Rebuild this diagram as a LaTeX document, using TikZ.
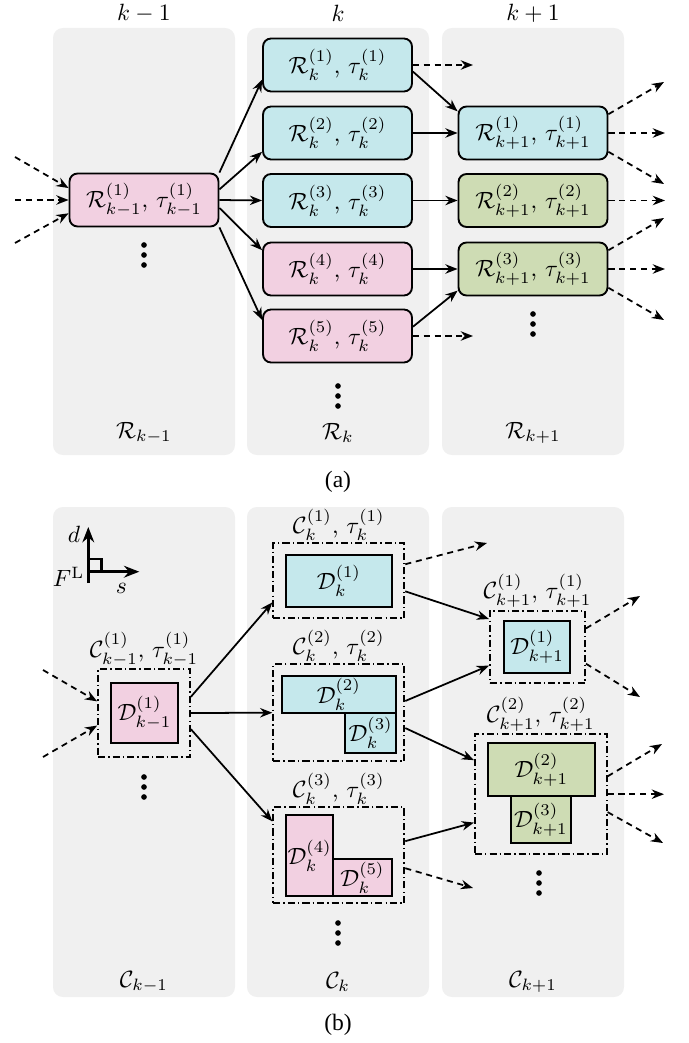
\documentclass[tikz,border=0pt]{standalone}
\usepackage{amsmath, amssymb}
\usepackage{fontspec}
\newfontfamily\capfont{Liberation Serif}
\usepackage{tikz}
\usetikzlibrary{arrows.meta, positioning}

\definecolor{colbg}{RGB}{240,240,240}
\definecolor{cyanbox}{RGB}{197,232,236}
\definecolor{pinkbox}{RGB}{242,208,225}
\definecolor{greenbox}{RGB}{206,220,180}

\begin{document}
\begin{tikzpicture}[
                    x=0.425pt, y=-0.425pt,
                    col/.style={fill=colbg, rounded corners=4.2pt},
                    rbox/.style={draw, line width=0.8pt, rounded corners=3.4pt, minimum width=63.3pt, minimum height=22.5pt, inner sep=0pt},
                    dbox/.style={draw, line width=0.8pt, inner sep=0pt},
                    chunk/.style={draw, line width=0.8pt, dash pattern=on 3pt off 1.3pt on 0.6pt off 1.3pt, inner sep=0pt},
                    clab/.style={anchor=south, inner sep=0.6pt},
                    hdr/.style={inner sep=1pt},
                    arr/.style={-{Stealth[length=5.2pt, width=4pt]}, line width=0.75pt},
                    darr/.style={arr, dash pattern=on 2.6pt off 2pt},
                    axarr/.style={-{Stealth[length=6.5pt, width=5pt]}, line width=1.2pt}
                ]
                \useasboundingbox (0,0) rectangle (689,1043);
                % gray columns
                \foreach \x in {53, 247, 442}{
                        \fill[col] (\x,28) rectangle ++(182,427);
                        \fill[col] (\x,507) rectangle ++(182,490);
                    }
                \node[hdr] (hd1) at (144,13) {$k-1$};
                \node[hdr] (hd2) at (338,13) {$k$};
                \node[hdr] (hd3) at (533,13) {$k+1$};

                % (a) reachable sets
                \node[rbox, fill=pinkbox] (rp) at (144,200) {$\mathcal{R}_{k-1}^{(1)}$, $\tau_{k-1}^{(1)}$};
                \foreach \i/\y/\c in {1/65/cyanbox, 2/133/cyanbox, 3/200.5/cyanbox, 4/269/pinkbox, 5/336/pinkbox}{
                        \node[rbox, fill=\c] (r\i) at (337.5,\y) {$\mathcal{R}_{k}^{(\i)}$, $\tau_{k}^{(\i)}$};
                    }
                \foreach \i/\y/\c in {1/133/cyanbox, 2/200.5/greenbox, 3/269/greenbox}{
                        \node[rbox, fill=\c] (s\i) at (533,\y) {$\mathcal{R}_{k+1}^{(\i)}$, $\tau_{k+1}^{(\i)}$};
                    }
                \foreach \x/\y in {144/245, 338/386, 533/314}{
                        \foreach \d in {0,10,20}
                            \fill (\x,\y+\d) circle[radius=1.2pt];
                    }
                \node (lr1) at (144,433) {$\mathcal{R}_{k-1}$};
                \node (lr2) at (338,433) {$\mathcal{R}_{k}$};
                \node (lr3) at (533,433) {$\mathcal{R}_{k+1}$};
                \node[font=\capfont] (capa) at (338,482) {(a)};

                \draw[arr] (rp.north east) -- (r1.191);
                \draw[arr] (rp.8) -- (r2.194);
                \draw[arr] (rp.east) -- (r3.west);
                \draw[arr] (rp.-6) -- (r4.166);
                \draw[arr] (rp.south east) -- (r5.168);
                \draw[arr] (r1.-5) -- (s1.164);
                \draw[arr] (r2.east) -- (s1.west);
                \draw[arr] (r3.east) -- (s2.west);
                \draw[arr] (r4.east) -- (s3.west);
                \draw[arr] (r5.7) -- (s3.196);

                \coordinate (ia1) at (15,157);
                \coordinate (ia2) at (15,200);
                \coordinate (ia3) at (15,243);
                \draw[darr] (ia1) -- (rp.171);
                \draw[darr] (ia2) -- (rp.west);
                \draw[darr] (ia3) -- (rp.190);
                \coordinate (oa1) at (473,65);
                \coordinate (oa2) at (473,336);
                \draw[darr] (r1.east) -- (oa1);
                \draw[darr] (r5.east) -- (oa2);
                \foreach \s/\y in {1/133, 3/269}{
                        \draw[darr] (s\s.14) -- (664,\y-51);
                        \draw[darr] (s\s.east) -- (665,\y);
                        \draw[darr] (s\s.-14) -- (664,\y+51);
                    }
                \draw[darr] (s2.east) -- (665,200.5);

                % (b) chunks
                \coordinate (fo) at (88.3,571.7);
                \draw[axarr] (fo) ++(0,11.3) -- ++(0,-56);
                \draw[axarr] (fo) -- ++(51,0);
                \draw[line width=1.2pt] (fo) rectangle ++(13.4,-12.7);
                \node (dl) at (74,534) {$d$};
                \node[anchor=east, inner sep=1pt] (fl) at (87,577) {$F^{\mathrm{L}}$};
                \node (sl) at (121.5,588) {$s$};

                \node[chunk, minimum width=39pt, minimum height=37.4pt] (cp) at (144,713) {};
                \node[dbox, fill=pinkbox, minimum width=28.7pt, minimum height=25.5pt] (dp) at (144.5,713) {$\mathcal{D}_{k-1}^{(1)}$};
                \node[clab] (lcp) at (cp.north) {$\mathcal{C}_{k-1}^{(1)}$, $\tau_{k-1}^{(1)}$};

                \node[chunk, minimum width=55.7pt, minimum height=31.9pt] (ck1) at (338.8,580.8) {};
                \node[dbox, fill=cyanbox, minimum width=45.3pt, minimum height=22pt] (dk1) at (339,581) {$\mathcal{D}_{k}^{(1)}$};
                \node[clab] (lck1) at (ck1.north) {$\mathcal{C}_{k}^{(1)}$, $\tau_{k}^{(1)}$};

                \node[chunk, minimum width=55.7pt, minimum height=41.1pt] (ck2) at (338.8,712.7) {};
                \node[dbox, fill=cyanbox, minimum width=48.6pt, minimum height=15.6pt] (dk2) at (338.8,694.3) {$\mathcal{D}_{k}^{(2)}$};
                \node[dbox, fill=cyanbox, minimum width=21.5pt, minimum height=17pt] (dk3) at (370.7,732.7) {$\mathcal{D}_{k}^{(3)}$};
                \node[clab] (lck2) at (ck2.north) {$\mathcal{C}_{k}^{(2)}$, $\tau_{k}^{(2)}$};

                \node[chunk, minimum width=55.7pt, minimum height=40.8pt] (ck3) at (338.8,855.3) {};
                \node[dbox, fill=pinkbox, minimum width=20.1pt, minimum height=34.4pt] (dk4) at (309.7,855.5) {$\mathcal{D}_{k}^{(4)}$};
                \node[dbox, fill=pinkbox, minimum width=24.8pt, minimum height=15.6pt] (dk5) at (362.5,877.7) {$\mathcal{D}_{k}^{(5)}$};
                \node[clab] (lck3) at (ck3.north) {$\mathcal{C}_{k}^{(3)}$, $\tau_{k}^{(3)}$};

                \node[chunk, minimum width=40.4pt, minimum height=30.9pt] (cn1) at (537.5,647) {};
                \node[dbox, fill=cyanbox, minimum width=27.9pt, minimum height=22.4pt] (dn1) at (537.2,647) {$\mathcal{D}_{k+1}^{(1)}$};
                \node[clab] (lcn1) at (cn1.north) {$\mathcal{C}_{k+1}^{(1)}$, $\tau_{k+1}^{(1)}$};

                \node[chunk, minimum width=56pt, minimum height=51.1pt] (cn2) at (540.8,794.2) {};
                \node[dbox, fill=greenbox, minimum width=45.6pt, minimum height=22.4pt] (dn2) at (541.3,769.7) {$\mathcal{D}_{k+1}^{(2)}$};
                \node[dbox, fill=greenbox, minimum width=25.5pt, minimum height=20.1pt] (dn3) at (541,819.7) {$\mathcal{D}_{k+1}^{(3)}$};
                \node[clab] (lcn2) at (cn2.north) {$\mathcal{C}_{k+1}^{(2)}$, $\tau_{k+1}^{(2)}$};

                \foreach \x/\y in {144/777, 338/923, 539/873}{
                        \foreach \d in {0,10,20}
                            \fill (\x,\y+\d) circle[radius=1.2pt];
                    }
                \node (lc1) at (144,982) {$\mathcal{C}_{k-1}$};
                \node (lc2) at (338,982) {$\mathcal{C}_{k}$};
                \node (lc3) at (533,982) {$\mathcal{C}_{k+1}$};
                \node[font=\capfont] (capb) at (338,1025) {(b)};

                \draw[arr] (cp.19) -- (ck1.198);
                \draw[arr] (cp.east) -- (ck2.west);
                \draw[arr] (cp.-19) -- (ck3.153);
                \draw[arr] (ck1.-9) -- (cn1.150);
                \draw[arr] (ck2.10) -- (cn1.201);
                \draw[arr] (ck2.-13) -- (cn2.153);
                \draw[arr] (ck3.12) -- (cn2.203);

                \coordinate (ib1) at (43,670);
                \coordinate (ib2) at (43,757);
                \draw[darr] (ib1) -- (cp.166);
                \draw[darr] (ib2) -- (cp.195);
                \coordinate (ob1) at (487,543);
                \coordinate (ob2) at (473,888);
                \draw[darr] (ck1.14) -- (ob1);
                \draw[darr] (ck3.-11) -- (ob2);
                \draw[darr] (cn1.21) -- (640,596);
                \draw[darr] (cn1.-19) -- (640,697);
                \draw[darr] (cn2.15) -- (662,744);
                \draw[darr] (cn2.east) -- (664,794.2);
                \draw[darr] (cn2.-15) -- (663,843);
            \end{tikzpicture}
\end{document}
